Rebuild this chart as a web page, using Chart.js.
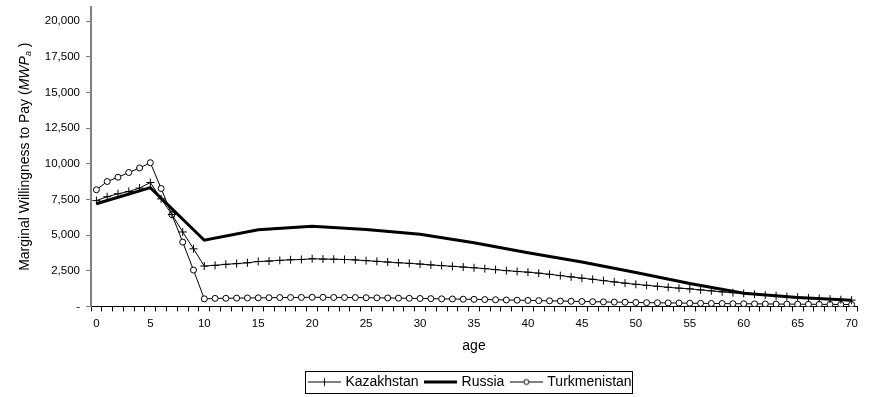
<!DOCTYPE html>
<html>
<head>
<meta charset="utf-8">
<script src="https://cdn.jsdelivr.net/npm/chart.js@4/dist/chart.umd.min.js"></script>
<style>
  html, body { margin: 0; padding: 0; background: #fff; }
  #wrap { width: 869px; height: 397px; }
</style>
</head>
<body>
<div id="wrap"><canvas id="c" width="869" height="397"></canvas></div>
<script>
// Age categories (x axis)
const ages = [0,1,2,3,4,5,6,7,8,9,10,11,12,13,14,15,16,17,18,19,20,21,22,23,24,25,26,27,28,29,30,
  31,32,33,34,35,36,37,38,39,40,41,42,43,44,45,46,47,48,49,50,51,52,53,54,55,56,57,58,59,60,
  61,62,63,64,65,66,67,68,69,70];

// Marginal willingness to pay by age
const kazakhstan = [7420,7690,7900,8060,8300,8690,7540,6450,5220,4040,2830,2880,2950,3000,3060,3150,
  3180,3230,3270,3290,3340,3320,3310,3290,3260,3210,3160,3110,3060,3020,2970,2910,2860,2810,2760,2710,
  2650,2580,2510,2450,2400,2330,2250,2160,2070,1980,1900,1810,1720,1630,1550,1480,1410,1340,1280,1230,
  1160,1090,1020,960,910,850,790,740,690,650,600,560,510,470,440];

// Russia is given at five-year ages; the line spans the gaps between them
const russia = [7200,null,null,null,null,8330,null,null,null,null,4640,null,null,null,null,5370,
  null,null,null,null,5620,null,null,null,null,5400,null,null,null,null,5060,null,null,null,null,4470,
  null,null,null,null,3770,null,null,null,null,3110,null,null,null,null,2380,null,null,null,null,1600,
  null,null,null,null,930,null,null,null,null,630,null,null,null,null,430];

const turkmenistan = [8180,8760,9060,9390,9710,10080,8270,6430,4510,2550,530,560,570,580,590,600,
  610,620,625,630,640,635,630,625,620,610,600,590,580,570,555,545,530,520,505,495,480,465,450,435,
  420,405,390,375,360,345,330,315,300,290,275,265,255,245,235,225,215,205,200,190,185,178,172,166,
  160,155,150,145,140,135,130];

// Value axis ticks
const yTicks = [0,2500,5000,7500,10000,12500,15000,17500,20000];
const seriesNames = ['Kazakhstan','Russia','Turkmenistan'];

const FONT = '"Liberation Sans", Arial, sans-serif';
Chart.defaults.font.family = FONT;
Chart.defaults.color = '#000';

// Small line-with-marker swatches for the legend
function swatch(kind) {
  const c = document.createElement('canvas');
  c.width = 33; c.height = 11;
  const g = c.getContext('2d');
  g.strokeStyle = '#000';
  g.lineWidth = kind === 'thick' ? 3 : 1;
  g.beginPath(); g.moveTo(0, 5.5); g.lineTo(33, 5.5); g.stroke();
  g.lineWidth = 1;
  if (kind === 'cross') {
    g.beginPath();
    g.moveTo(16.5, 1.5); g.lineTo(16.5, 9.5);
    g.moveTo(12.5, 5.5); g.lineTo(20.5, 5.5);
    g.stroke();
  } else if (kind === 'circle') {
    g.fillStyle = '#fff';
    g.beginPath(); g.arc(16.5, 5.5, 2.5, 0, Math.PI * 2); g.fill(); g.stroke();
  }
  return c;
}
const swatches = [swatch('cross'), swatch('thick'), swatch('circle')];

// Rotated y-axis title with italic symbol and subscript
const yTitlePlugin = {
  id: 'yTitle',
  afterDraw(chart) {
    const ctx = chart.ctx;
    const a = chart.chartArea;
    const parts = [
      { t: 'Marginal Willingness to Pay (', f: '14px ' + FONT, dy: 0 },
      { t: 'MWP', f: 'italic 14px ' + FONT, dy: 0 },
      { t: 'a', f: 'italic 9px ' + FONT, dy: 3 },
      { t: ' )', f: '14px ' + FONT, dy: 0 }
    ];
    ctx.save();
    let total = 0;
    parts.forEach(p => { ctx.font = p.f; p.w = ctx.measureText(p.t).width; total += p.w; });
    ctx.translate(25, (a.top + a.bottom) / 2);
    ctx.rotate(-Math.PI / 2);
    ctx.fillStyle = '#000';
    ctx.textBaseline = 'middle';
    let x = -total / 2;
    parts.forEach(p => { ctx.font = p.f; ctx.fillText(p.t, x, p.dy); x += p.w; });
    ctx.restore();
  }
};

// Frame around the legend entries
const legendFramePlugin = {
  id: 'legendFrame',
  afterLayout(chart) {
    const lg = chart.legend;
    if (lg) { lg.left -= 3; lg.right -= 3; }
  },
  afterDraw(chart) {
    const lg = chart.legend;
    if (!lg || !lg.legendHitBoxes.length) return;
    const hb = lg.legendHitBoxes;
    const l = Math.min(...hb.map(h => h.left)) - 5;
    const r = Math.max(...hb.map(h => h.left + h.width)) + 1;
    const t = Math.min(...hb.map(h => h.top)) - 4;
    const b = Math.max(...hb.map(h => h.top + h.height)) + 4;
    const ctx = chart.ctx;
    ctx.save();
    ctx.strokeStyle = '#000';
    ctx.lineWidth = 1;
    ctx.strokeRect(Math.round(l) + 0.5, Math.round(t) + 0.5, Math.round(r - l), Math.round(b - t));
    ctx.restore();
  }
};

new Chart(document.getElementById('c'), {
  type: 'line',
  data: {
    labels: ages,
    datasets: [
      {
        label: seriesNames[0], data: kazakhstan,
        borderColor: '#000', borderWidth: 1,
        pointStyle: 'cross', pointRadius: 4, pointBorderWidth: 1,
        pointBorderColor: '#000', pointBackgroundColor: '#000'
      },
      {
        label: seriesNames[1], data: russia, spanGaps: true,
        borderColor: '#000', borderWidth: 3, pointRadius: 0
      },
      {
        label: seriesNames[2], data: turkmenistan,
        borderColor: '#000', borderWidth: 1,
        pointStyle: 'circle', pointRadius: 3, pointBorderWidth: 1,
        pointBorderColor: '#000', pointBackgroundColor: '#fff'
      }
    ]
  },
  options: {
    responsive: false,
    animation: false,
    layout: { padding: { top: 7, left: 0, right: 12, bottom: -2 } },
    elements: { line: { tension: 0 } },
    plugins: {
      tooltip: { enabled: false },
      legend: {
        position: 'bottom',
        fullSize: false,
        labels: {
          usePointStyle: true,
          pointStyleWidth: 28,
          boxHeight: 11,
          padding: 8,
          color: '#000',
          font: { size: 14 },
          generateLabels: () => seriesNames.map((n, i) => ({
            text: n, pointStyle: swatches[i], datasetIndex: i,
            fillStyle: 'transparent', strokeStyle: 'transparent', lineWidth: 0, hidden: false
          }))
        }
      }
    },
    scales: {
      x: {
        type: 'category',
        offset: true,
        grid: { offset: true, drawOnChartArea: false, drawTicks: true, tickLength: 5, color: '#000' },
        border: { color: '#000', width: 1 },
        ticks: {
          autoSkip: false, maxRotation: 0, minRotation: 0, padding: 6,
          font: { size: 11.5 },
          callback: (v, i) => (ages[i] % 5 === 0 ? String(ages[i]) : '')
        },
        title: { display: true, text: 'age', font: { size: 14 }, padding: { top: 1, bottom: 12 } }
      },
      y: {
        min: 0, max: 21000,
        afterBuildTicks: s => { s.ticks = yTicks.map(v => ({ value: v })); },
        afterFit: s => { s.width = 91; s.paddingTop = 0; s.paddingBottom = 0; },
        grid: { drawOnChartArea: false, drawTicks: true, tickLength: 5, color: '#808080' },
        border: { color: '#808080', width: 2 },
        ticks: {
          padding: 6,
          font: { size: 11.5 },
          callback: v => (v === 0 ? '-' : v.toLocaleString('en-US'))
        }
      }
    }
  },
  plugins: [yTitlePlugin, legendFramePlugin]
});
</script>
</body>
</html>
